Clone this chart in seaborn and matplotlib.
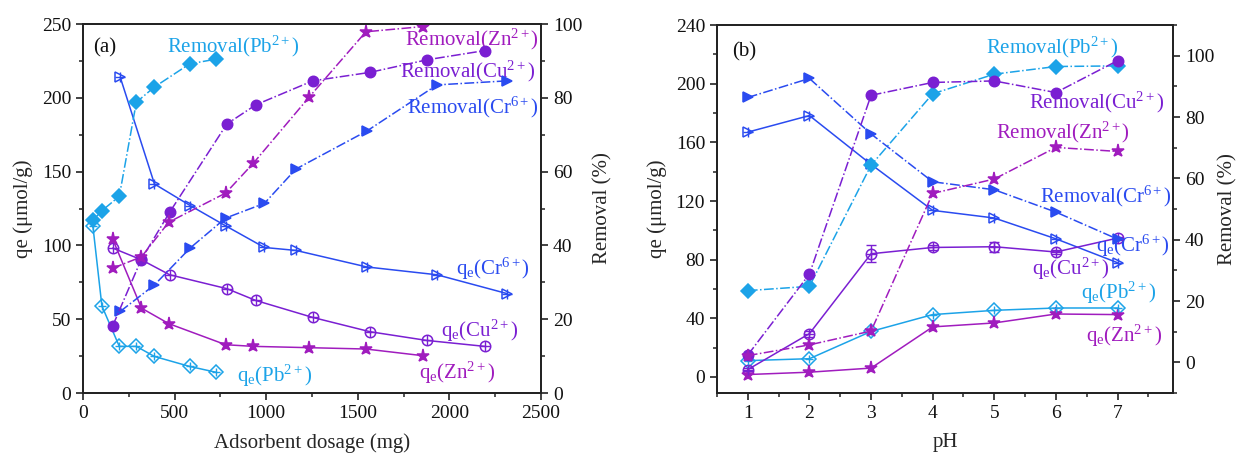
import matplotlib
matplotlib.use("Agg")
import matplotlib.pyplot as plt
import numpy as np
import pandas as pd
import seaborn as sns
from matplotlib.ticker import MultipleLocator

sns.set_theme(style="ticks")
plt.rcParams['font.family'] = ['Liberation Serif', 'DejaVu Serif']
plt.rcParams['mathtext.fontset'] = 'custom'
plt.rcParams['mathtext.rm'] = 'Liberation Serif'
plt.rcParams['mathtext.it'] = 'Liberation Serif:italic'
plt.rcParams['mathtext.bf'] = 'Liberation Serif:bold'
plt.rcParams['axes.linewidth'] = 1.3
plt.rcParams['axes.edgecolor'] = '#222222'

# ---- colours per ion ----
C_PB = '#1CA3E8'
C_CR = '#2A4BF0'
C_CU = '#7A1FD2'
C_ZN = '#A01CBE'

# ---- (a) effect of adsorbent dosage ----
pb_dose = [54, 103, 198, 291, 389, 582, 728]
pb_qe = [113, 59, 31.6, 31.6, 24.8, 18, 14]
pb_rem = [46.8, 49.4, 53.3, 78.8, 82.9, 89.2, 90.5]

cr_dose = [203, 390, 585, 778, 990, 1162, 1549, 1932, 2316]
cr_qe = [214, 141.6, 127, 113.3, 98.6, 96.6, 85.4, 80.1, 67.3]
cr_rem = [22.1, 29.3, 39.3, 47.4, 51.4, 60.7, 71.0, 83.5, 84.6]

cu_dose = [162, 318, 473, 785, 943, 1254, 1567, 1877, 2192]
cu_qe = [98.2, 90.3, 80.1, 70.7, 62.7, 51.2, 41.5, 35.6, 31.6]
cu_rem = [18.2, 36.2, 49.0, 72.9, 78.1, 84.6, 86.9, 90.3, 92.8]

zn_dose = [161, 319, 468, 779, 930, 1236, 1544, 1853]
zn_qe = [104.5, 57.5, 47, 32.7, 31.6, 30.7, 29.8, 25.3]
zn_rem = [33.8, 36.9, 46.3, 54.2, 62.3, 80.3, 97.9, 99.3]

# ---- (b) effect of pH ----
ph = [1, 2, 3, 4, 5, 6, 7]
pb_qe_ph = [11.1, 12.4, 31.0, 42.5, 45.4, 47.0, 47.0]
pb_rem_ph = [23.4, 24.8, 64.3, 87.6, 94.0, 96.5, 96.7]
cr_qe_ph = [167, 178.3, 145, 113.6, 108.4, 94.2, 77.9]
cr_rem_ph = [86.4, 92.6, 74.5, 58.9, 56.3, 49.0, 40.2]
cu_qe_ph = [5.0, 29.5, 84.0, 88.3, 88.8, 85.2, 94.7]
cu_qe_err = [1.0, 2.0, 5.8, 2.0, 3.5, 1.5, 1.0]
cu_rem_ph = [2.4, 28.8, 87.1, 91.3, 91.8, 88.0, 98.4]
zn_qe_ph = [1.6, 3.2, 6.0, 34.1, 36.8, 42.9, 42.5]
zn_rem_ph = [2.2, 5.7, 10.2, 55.1, 59.8, 70.1, 68.8]

MS = 7.5
LW = 1.1


def series(ax, x, y, color, marker, filled, dashed, cross=False, ms=MS):
    df = pd.DataFrame({'x': x, 'y': y})
    sns.lineplot(data=df, x='x', y='y', ax=ax, sort=False, estimator=None,
                 color=color, linestyle='-.' if dashed else '-', linewidth=LW,
                 marker=marker, markersize=ms,
                 markerfacecolor=color if filled else 'none',
                 markeredgecolor=color, markeredgewidth=1.1, legend=False)
    if cross:
        sns.scatterplot(data=df, x='x', y='y', ax=ax, marker='+', s=ms * ms * 0.9,
                        color=color, linewidth=1.0, legend=False, zorder=5)


def style_axes(ax, axr):
    for a in (ax, axr):
        a.tick_params(axis='both', which='major', direction='out', length=5,
                      width=1.2, labelsize=14, colors='#222222', labelcolor='#111111')
        a.tick_params(axis='both', which='minor', direction='out', length=3, width=1.1,
                      colors='#222222')
        for s in a.spines.values():
            s.set_visible(True)
            s.set_linewidth(1.3)
    ax.tick_params(top=False, right=False)
    axr.tick_params(top=False, left=False, bottom=False)


def label(ax, x, y, txt, color, ha='left', size=15):
    ax.text(x, y, txt, color=color, ha=ha, va='center', fontsize=size)


fig = plt.figure(figsize=(12.39, 4.61), dpi=100)

# ================= panel (a) =================
ax1 = fig.add_axes([0.067, 0.1475, 0.3697, 0.8004])
ax1r = ax1.twinx()

series(ax1, pb_dose, pb_qe, C_PB, 'D', False, False, cross=True, ms=6.8)
series(ax1, cr_dose, cr_qe, C_CR, '>', False, False, cross=True)
series(ax1, cu_dose, cu_qe, C_CU, 'o', False, False, cross=True)
series(ax1, zn_dose, zn_qe, C_ZN, '*', True, False, ms=9.5)

series(ax1r, pb_dose, pb_rem, C_PB, 'D', True, True, ms=6.8)
series(ax1r, cr_dose, cr_rem, C_CR, '>', True, True)
series(ax1r, cu_dose, cu_rem, C_CU, 'o', True, True)
series(ax1r, zn_dose, zn_rem, C_ZN, '*', True, True, ms=9.5)

ax1.set_xlim(0, 2500)
ax1.set_ylim(0, 250)
ax1r.set_ylim(0, 100)
ax1.xaxis.set_major_locator(MultipleLocator(500))
ax1.xaxis.set_minor_locator(MultipleLocator(250))
ax1.yaxis.set_major_locator(MultipleLocator(50))
ax1.yaxis.set_minor_locator(MultipleLocator(25))
ax1r.yaxis.set_major_locator(MultipleLocator(20))
ax1r.yaxis.set_minor_locator(MultipleLocator(10))
style_axes(ax1, ax1r)
ax1.set_xlabel('Adsorbent dosage (mg)', fontsize=15, labelpad=8)
ax1.set_ylabel('qe (μmol/g)', fontsize=15, labelpad=6)
ax1r.set_ylabel('Removal (%)', fontsize=15, labelpad=8)

label(ax1, 55, 234, '(a)', '#111111', size=15)
label(ax1, 819, 234.6, r'Removal(Pb$^{2+}$)', C_PB, ha='center')
label(ax1, 2490, 239.4, r'Removal(Zn$^{2+}$)', C_ZN, ha='right')
label(ax1, 2469, 217.7, r'Removal(Cu$^{2+}$)', C_CU, ha='right')
label(ax1, 2485, 193.3, r'Removal(Cr$^{6+}$)', C_CR, ha='right')
label(ax1, 2441, 84.0, r'q$_\mathrm{e}$(Cr$^{6+}$)', C_CR, ha='right')
label(ax1, 2376, 42.0, r'q$_\mathrm{e}$(Cu$^{2+}$)', C_CU, ha='right')
label(ax1, 2250, 13.5, r'q$_\mathrm{e}$(Zn$^{2+}$)', C_ZN, ha='right')
label(ax1, 841, 11.5, r'q$_\mathrm{e}$(Pb$^{2+}$)', C_PB, ha='left')

# ================= panel (b) =================
ax2 = fig.add_axes([0.5787, 0.1475, 0.368, 0.798])
ax2r = ax2.twinx()

series(ax2, ph, pb_qe_ph, C_PB, 'D', False, False, cross=True, ms=6.8)
series(ax2, ph, cr_qe_ph, C_CR, '>', False, False, cross=True)
series(ax2, ph, cu_qe_ph, C_CU, 'o', False, False, cross=True)
ax2.errorbar(ph, cu_qe_ph, yerr=cu_qe_err, fmt='none', ecolor=C_CU,
             elinewidth=1.0, capsize=3.5, capthick=1.0, zorder=4)
series(ax2, ph, zn_qe_ph, C_ZN, '*', True, False, ms=9.5)

series(ax2r, ph, pb_rem_ph, C_PB, 'D', True, True, ms=6.8)
series(ax2r, ph, cr_rem_ph, C_CR, '>', True, True)
series(ax2r, ph, cu_rem_ph, C_CU, 'o', True, True)
series(ax2r, ph, zn_rem_ph, C_ZN, '*', True, True, ms=9.5)

ax2.set_xlim(0.5, 7.9)
ax2.set_ylim(-11, 240)
ax2r.set_ylim(-10, 110)
ax2.xaxis.set_major_locator(MultipleLocator(1))
ax2.xaxis.set_minor_locator(MultipleLocator(0.5))
ax2.yaxis.set_major_locator(MultipleLocator(40))
ax2.yaxis.set_minor_locator(MultipleLocator(20))
ax2r.yaxis.set_major_locator(MultipleLocator(20))
ax2r.yaxis.set_minor_locator(MultipleLocator(10))
ax2.set_xticks([1, 2, 3, 4, 5, 6, 7])
style_axes(ax2, ax2r)
ax2.set_xlabel('pH', fontsize=15, labelpad=8)
ax2.set_ylabel('qe (μmol/g)', fontsize=15, labelpad=6)
ax2r.set_ylabel('Removal (%)', fontsize=15, labelpad=3)

label(ax2, 0.74, 221.8, '(b)', '#111111', size=15)
label(ax2, 7.02, 224.5, r'Removal(Pb$^{2+}$)', C_PB, ha='right')
label(ax2, 7.76, 187, r'Removal(Cu$^{2+}$)', C_CU, ha='right')
label(ax2, 7.2, 166.5, r'Removal(Zn$^{2+}$)', C_ZN, ha='right')
label(ax2, 7.88, 122.9, r'Removal(Cr$^{6+}$)', C_CR, ha='right')
label(ax2, 7.85, 89.5, r'q$_\mathrm{e}$(Cr$^{6+}$)', C_CR, ha='right')
label(ax2, 6.87, 73.8, r'q$_\mathrm{e}$(Cu$^{2+}$)', C_CU, ha='right')
label(ax2, 7.63, 57.4, r'q$_\mathrm{e}$(Pb$^{2+}$)', C_PB, ha='right')
label(ax2, 7.73, 28.0, r'q$_\mathrm{e}$(Zn$^{2+}$)', C_ZN, ha='right')

fig.savefig('out.png', dpi=100)
